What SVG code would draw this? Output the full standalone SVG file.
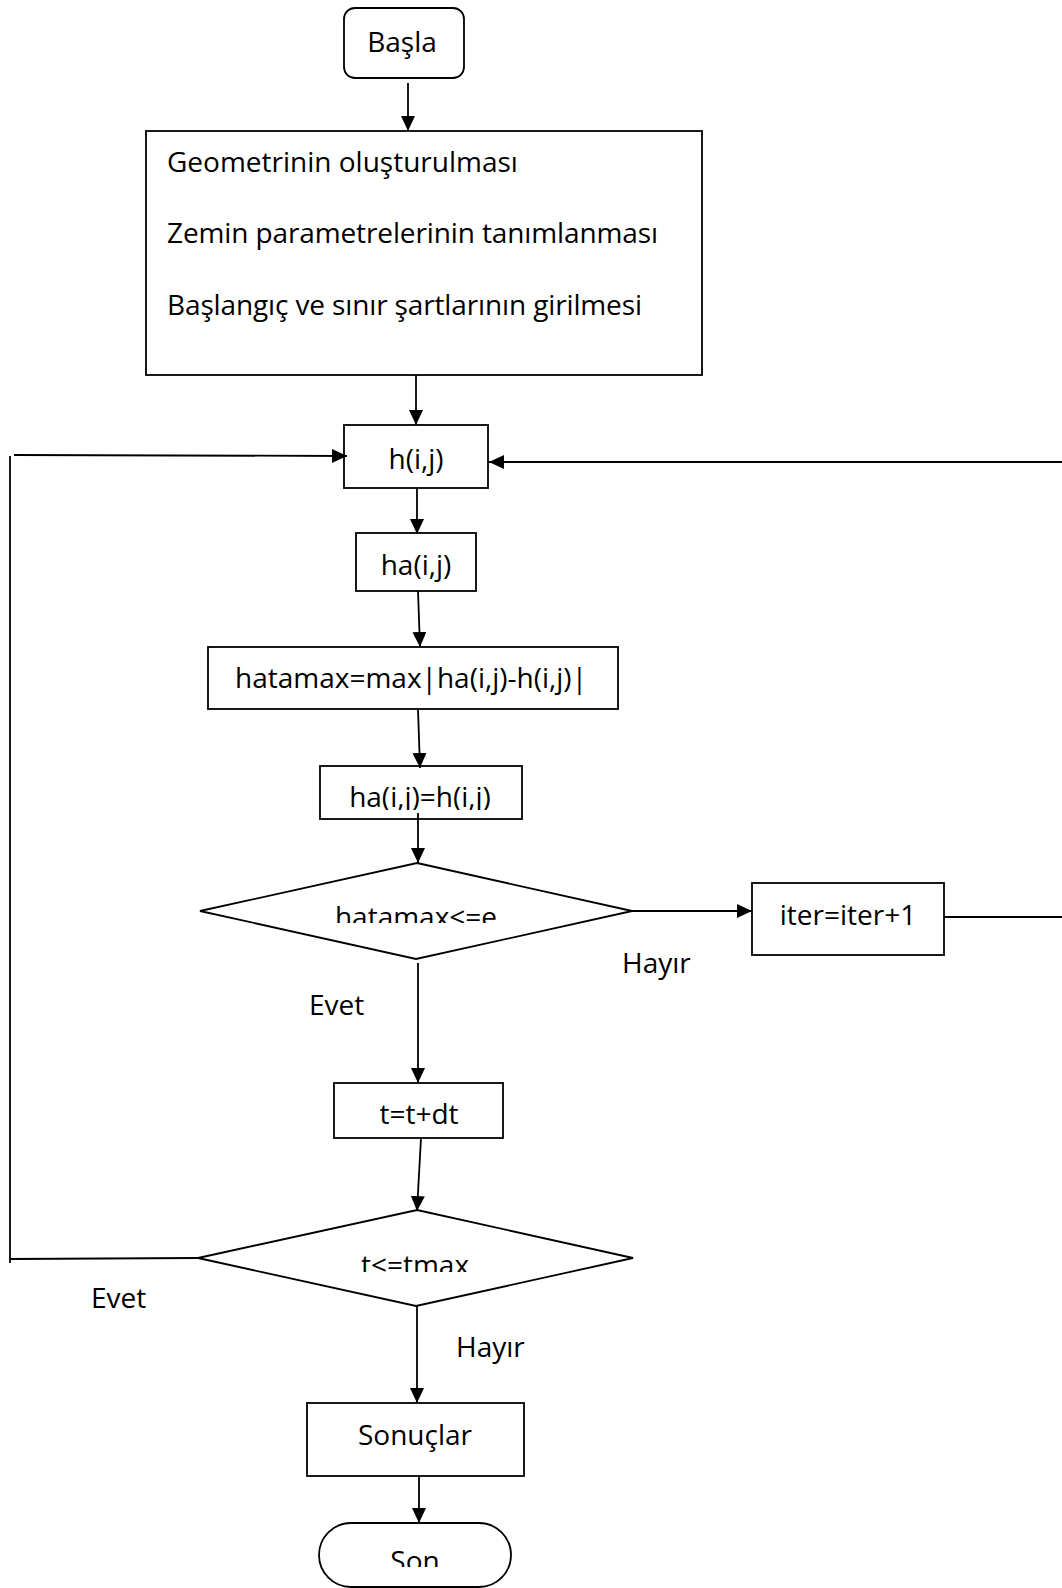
<svg xmlns="http://www.w3.org/2000/svg" width="1062" height="1588" viewBox="0 0 1062 1588">
<style>
.box{fill:#fff;stroke:#000;stroke-width:1.8}
.ln{fill:none;stroke:#000;stroke-width:1.8}
.arr{marker-end:url(#ah)}
text{font-family:"Open Sans","Liberation Sans",sans-serif;font-size:28px;fill:#000}
.c{text-anchor:middle}
</style>
<defs>
<marker id="ah" markerUnits="userSpaceOnUse" markerWidth="16" markerHeight="15" refX="15" refY="7" orient="auto">
<path d="M0,0 L15,7 L0,14 z" fill="#000"/>
</marker>
<clipPath id="clipHah"><rect x="320" y="766" width="202" height="44"/></clipPath>
<clipPath id="clipD1"><rect x="200" y="863" width="432" height="60"/></clipPath>
<clipPath id="clipD2"><rect x="198" y="1210" width="435" height="62"/></clipPath>
<clipPath id="clipSon"><rect x="319" y="1523" width="192" height="44"/></clipPath>
</defs>
<rect width="1062" height="1588" fill="#fff"/>

<g id="basla">
<rect class="box" x="344" y="8" width="120" height="70" rx="11"/>
<text class="c" x="402" y="52">Başla</text>
</g>

<g id="input">
<rect class="box" x="146" y="131" width="556" height="244"/>
<text x="167" y="172">Geometrinin oluşturulması</text>
<text x="167" y="243" textLength="491">Zemin parametrelerinin tanımlanması</text>
<text x="167" y="315" textLength="475">Başlangıç ve sınır şartlarının girilmesi</text>
</g>

<g id="h">
<rect class="box" x="344" y="425" width="144" height="63"/>
<text class="c" x="416" y="469">h(i,j)</text>
</g>

<g id="ha">
<rect class="box" x="356" y="533" width="120" height="58"/>
<text class="c" x="416" y="575">ha(i,j)</text>
</g>

<g id="hatamax">
<rect class="box" x="208" y="647" width="410" height="62"/>
<text class="c" x="411" y="688">hatamax=max|ha(i,j)-h(i,j)|</text>
</g>

<g id="hah">
<rect class="box" x="320" y="766" width="202" height="53"/>
<text class="c" x="420" y="807" clip-path="url(#clipHah)">ha(i,j)=h(i,j)</text>
</g>

<g id="dec1">
<polygon class="box" points="417,863 632,911 416,959 200,911"/>
<text class="c" x="416" y="927" clip-path="url(#clipD1)">hatamax&lt;=e</text>
</g>

<g id="iter">
<rect class="box" x="752" y="883" width="192" height="72"/>
<text class="c" x="848" y="925">iter=iter+1</text>
</g>

<g id="labels">
<text x="622" y="973">Hayır</text>
<text x="309" y="1015">Evet</text>
<text x="91" y="1308">Evet</text>
<text x="456" y="1357">Hayır</text>
</g>

<g id="tdt">
<rect class="box" x="334" y="1083" width="169" height="55"/>
<text class="c" x="419" y="1124">t=t+dt</text>
</g>

<g id="dec2">
<polygon class="box" points="417,1210 633,1258 416,1306 198,1258"/>
<text class="c" x="415" y="1275" clip-path="url(#clipD2)">t&lt;=tmax</text>
</g>

<g id="sonuclar">
<rect class="box" x="307" y="1403" width="217" height="73"/>
<text class="c" x="415" y="1445">Sonuçlar</text>
</g>

<g id="son">
<rect class="box" x="319" y="1523" width="192" height="64" rx="32" ry="32"/>
<text class="c" x="415" y="1571" clip-path="url(#clipSon)">Son</text>
</g>

<g id="connectors">
<line class="ln arr" x1="408" y1="83" x2="408" y2="131"/>
<line class="ln arr" x1="416" y1="375" x2="416" y2="425"/>
<line class="ln" x1="10" y1="456" x2="10" y2="1263"/>
<line class="ln" x1="10" y1="1259" x2="198" y2="1258"/>
<line class="ln arr" x1="14" y1="455" x2="347" y2="456"/>
<line class="ln arr" x1="1062" y1="462" x2="489" y2="462"/>
<line class="ln" x1="944" y1="917" x2="1062" y2="917"/>
<line class="ln arr" x1="417" y1="488" x2="417" y2="534"/>
<line class="ln arr" x1="418" y1="591" x2="420" y2="647"/>
<line class="ln arr" x1="418" y1="709" x2="420" y2="768"/>
<line class="ln arr" x1="418" y1="813" x2="418" y2="863"/>
<line class="ln arr" x1="632" y1="911" x2="752" y2="911"/>
<line class="ln arr" x1="418" y1="963" x2="418" y2="1083"/>
<line class="ln arr" x1="421" y1="1138" x2="417" y2="1211"/>
<line class="ln arr" x1="417" y1="1306" x2="417" y2="1403"/>
<line class="ln arr" x1="419" y1="1476" x2="419" y2="1523"/>
</g>
</svg>
